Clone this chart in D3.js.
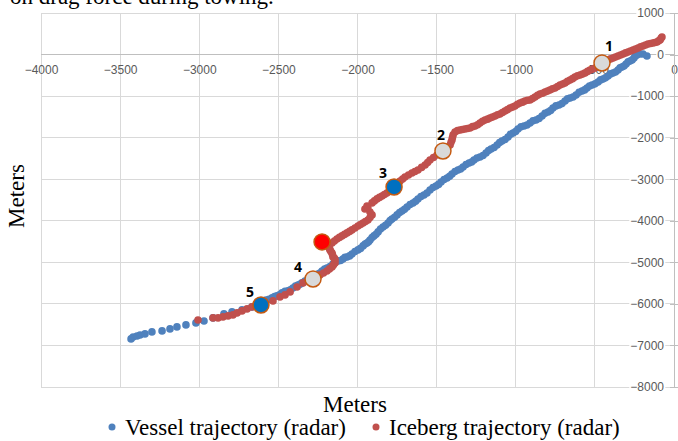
<!DOCTYPE html>
<meta charset="utf-8">
<style>

body {
  margin: 0;
  background: #fff;
}

.tick text {
  font: 12px "Liberation Sans", sans-serif;
  fill: #595959;
}

.grid line {
  stroke: #d9d9d9;
  shape-rendering: crispEdges;
}

.axis path,
.axis line {
  stroke: #bfbfbf;
  shape-rendering: crispEdges;
}

.serif {
  font-family: "Liberation Serif", "Times New Roman", serif;
  fill: #000;
}

.num {
  font: bold 14px "Open Sans", sans-serif;
  text-anchor: middle;
}

</style>
<svg width="678" height="441"></svg>
<script src="https://d3js.org/d3.v7.min.js"></script>
<script>

// ticks
var xTicks = [-4000, -3500, -3000, -2500, -2000, -1500, -1000, -500, 0];
var yTicks = [1000, 0, -1000, -2000, -3000, -4000, -5000, -6000, -7000, -8000];

// vessel trajectory (radar), meters [x, y]
var vessel = [
  [-3431,-6843],[-3418,-6795],[-3393,-6771],[-3374,-6747],[-3343,-6722],[-3299,-6674],
  [-3235,-6650],[-3185,-6602],[-3141,-6554],[-3084,-6506],[-3021,-6458],[-2970,-6410],
  [-2913,-6337],[-2844,-6241],[-2793,-6193],[-2730,-6145],[-2667,-6073],[-2616,-5977],
  [-2578,-5905],[-2540,-5856],[-2509,-5808],[-2477,-5736],[-2439,-5688],[-2408,-5616],
  [-2376,-5544],[-2351,-5495],[-2313,-5423],[-2281,-5351],[-2250,-5279],[-2224,-5207],
  [-2193,-5135],[-2155,-5038],[-2123,-4966],[-2092,-4918],[-2066,-4870],[-2035,-4798],
  [-1997,-4701],[-1965,-4605],[-1940,-4533],[-1921,-4461],[-1896,-4364],[-1870,-4268],
  [-1839,-4148],[-1807,-4052],[-1782,-3956],[-1750,-3859],[-1719,-3763],[-1687,-3667],
  [-1649,-3571],[-1618,-3475],[-1580,-3378],[-1542,-3258],[-1504,-3162],[-1472,-3066],
  [-1434,-2970],[-1403,-2873],[-1365,-2777],[-1333,-2705],[-1295,-2609],[-1264,-2537],
  [-1226,-2464],[-1188,-2368],[-1156,-2272],[-1118,-2176],[-1087,-2080],[-1049,-1983],
  [-1017,-1887],[-986,-1791],[-948,-1718],[-910,-1646],[-872,-1574],[-834,-1477],
  [-796,-1381],[-765,-1285],[-727,-1213],[-689,-1116],[-657,-1044],[-619,-972],
  [-581,-876],[-550,-804],[-518,-731],[-480,-659],[-449,-587],[-417,-515],
  [-386,-443],[-354,-371],[-329,-298],[-303,-226],[-278,-154],[-253,-82],
  [-234,-10],[-215,14],[-196,14],[-171,-34],
  [-2597,-5930],[-2559,-5890],[-2524,-5822],[-2493,-5780],[-2458,-5700],[-2424,-5660],
  [-2392,-5570],[-2363,-5530],[-2332,-5450],[-2297,-5400],[-2266,-5300],[-2237,-5255],
  [-2208,-5160],[-2174,-5100],[-2139,-4990],[-2107,-4955],[-2079,-4880],[-2050,-4845],
  [-2016,-4740],[-1981,-4665],[-1952,-4560],[-1930,-4505],[-1908,-4405],[-1883,-4325],
  [-1855,-4200],[-1823,-4110],[-1794,-3995],[-1766,-3915],[-1734,-3800],[-1703,-3725],
  [-1668,-3610],[-1633,-3530],[-1599,-3415],[-1561,-3330],[-1523,-3200],[-1488,-3125],
  [-1453,-3005],[-1418,-2930],[-1384,-2815],[-1349,-2755],[-1314,-2645],[-1279,-2585],
  [-1245,-2490],[-1207,-2430],[-1172,-2310],[-1137,-2235],[-1102,-2115],[-1068,-2045],
  [-1033,-1920],[-1001,-1850],[-967,-1740],[-929,-1695],[-891,-1595],[-853,-1540],
  [-815,-1415],[-780,-1345],[-746,-1235],[-708,-1180],[-673,-1065],[-638,-1020],
  [-600,-910],[-565,-850],[-534,-755],[-499,-705],[-464,-610],[-433,-560],
  [-401,-465],[-370,-420],[-341,-320],[-316,-275],[-290,-175],[-265,-130],[-243,-30]
];

// iceberg trajectory (radar), meters [x, y]
var iceberg = [
  [-3008,-6386],[-2913,-6337],[-2881,-6337],[-2850,-6313],[-2818,-6289],[-2787,-6265],
  [-2761,-6217],[-2730,-6169],[-2698,-6121],[-2667,-6073],[-2534,-5928],[-2490,-5832],
  [-2458,-5784],[-2426,-5712],[-2382,-5592],[-2344,-5495],[-2237,-5303],[-2193,-5207],
  [-2161,-5110],[-2142,-5014],[-2142,-4942],[-2155,-4870],[-2161,-4774],[-2174,-4701],
  [-2180,-4629],[-2161,-4533],[-2130,-4437],[-2098,-4364],[-2066,-4292],[-2035,-4220],
  [-1997,-4124],[-1965,-4052],[-1934,-3980],[-1908,-3859],[-1921,-3787],[-1953,-3715],
  [-1940,-3643],[-1908,-3570],[-1877,-3474],[-1845,-3402],[-1814,-3330],[-1788,-3258],
  [-1731,-3041],[-1700,-2945],[-1656,-2849],[-1618,-2777],[-1573,-2656],[-1542,-2536],
  [-1498,-2416],[-1415,-2175],[-1403,-2055],[-1396,-1934],[-1384,-1862],[-1352,-1814],
  [-1321,-1790],[-1289,-1766],[-1257,-1718],[-1226,-1646],[-1194,-1574],[-1163,-1525],
  [-1131,-1477],[-1100,-1429],[-1068,-1357],[-1036,-1285],[-1005,-1237],[-973,-1165],
  [-942,-1116],[-910,-1092],[-878,-1020],[-847,-948],[-815,-900],[-784,-852],
  [-752,-804],[-720,-731],[-689,-683],[-657,-611],[-626,-539],[-594,-491],
  [-562,-443],[-531,-371],[-499,-322],[-417,-130],[-385,-82],[-354,-34],
  [-322,14],[-291,63],[-259,111],[-227,159],[-196,207],[-164,255],
  [-133,279],[-107,303],[-88,351],[-76,423],
  [-2215,-5255],[-2177,-5158],[-2152,-5062],[-2145,-4905],[-2158,-4820],[-2168,-4738],
  [-2177,-4665],[-2146,-4485],[-2114,-4400],[-2082,-4328],[-2050,-4256],[-2016,-4172],
  [-1981,-4088],[-1950,-4016],[-1921,-3920],[-1935,-3680],[-1893,-3522],[-1861,-3438],
  [-1830,-3366],[-1760,-3150],[-1715,-2993],[-1678,-2897],[-1637,-2813],[-1595,-2716],
  [-1557,-2596],[-1520,-2476],
  [-1409,-2110],[-1400,-1995],[-1368,-1830],[-1337,-1805],[-1305,-1780],[-1273,-1735],
  [-1241,-1690],[-1210,-1605],[-1178,-1555],[-1147,-1505],[-1115,-1450],[-1084,-1395],
  [-1052,-1325],[-1020,-1265],[-989,-1195],[-957,-1145],[-926,-1100],[-894,-1060],
  [-862,-980],[-831,-930],[-799,-880],[-768,-825],[-736,-770],[-704,-710],
  [-673,-645],[-641,-580],[-610,-510],[-578,-470],[-546,-405],[-515,-350],
  [-401,-105],[-370,-60],[-338,-10],[-306,40],[-275,85],[-243,135],
  [-211,185],[-180,230],[-148,265],[-120,290],[-97,330],[-82,390]
];

// highlighted positions
var markLabels = ["1", "2", "3", "", "4", "5"];
var markX = [-455, -1460, -1769, -2224, -2281, -2610];
var markY = [-202, -2320, -3186, -4509, -5401, -6026];
var markFill = ["#d9d9d9", "#d9d9d9", "#0070c0", "#ff0000", "#d9d9d9", "#0070c0"];

var seriesNames = ["Vessel trajectory (radar)", "Iceberg trajectory (radar)"];
var seriesColors = ["#4f81bd", "#c0504d"];

var svg = d3.select("svg");

var x = d3.scaleLinear().domain([-4000, 0]).range([41, 674]);
var y = d3.scaleLinear().domain([1000, -8000]).range([13, 387]);

svg.append("rect").attr("width", 678).attr("height", 441).attr("fill", "#fff");

// caption text, cut off at the top like the source
svg.append("text")
    .attr("class", "serif")
    .attr("x", 10)
    .attr("y", 4)
    .style("font-size", "23px")
    .text("on drag force during towing.");

// grid
svg.append("g")
    .attr("class", "grid")
    .selectAll("line")
    .data(xTicks.slice(0, -1))
  .enter().append("line")
    .attr("x1", function(d) { return x(d); })
    .attr("x2", function(d) { return x(d); })
    .attr("y1", y(1000))
    .attr("y2", y(-8000));

svg.append("g")
    .attr("class", "grid")
    .selectAll("line")
    .data(yTicks)
  .enter().append("line")
    .attr("x1", x(-4000))
    .attr("x2", x(0))
    .attr("y1", function(d) { return y(d); })
    .attr("y2", function(d) { return y(d); });

// x axis crossing at y = 0
var gx = svg.append("g")
    .attr("class", "axis")
    .attr("transform", "translate(0," + y(0) + ")")
    .call(d3.axisBottom(x).tickValues(xTicks).tickSize(0).tickPadding(11).tickFormat(d3.format("d")));
gx.select(".domain").attr("d", "M" + x(-4000) + ",0H" + x(0));

// y axis crossing at x = 0
var gy = svg.append("g")
    .attr("class", "axis")
    .attr("transform", "translate(" + x(0) + ",0)")
    .call(d3.axisLeft(y).tickValues(yTicks).tickSize(0).tickPadding(10).tickFormat(d3.format("d")));
gy.select(".domain").attr("d", "M0," + y(1000) + "V" + y(-8000));
gy.selectAll(".tick").append("line")
    .attr("x1", -4).attr("x2", 4);
gy.selectAll(".tick").insert("rect", "text")
    .datum(function() { return this.nextSibling.getBBox(); })
    .attr("x", function(d) { return d.x - 1; })
    .attr("y", function(d) { return d.y + 2; })
    .attr("width", function(d) { return d.width + 2; })
    .attr("height", function(d) { return d.height - 4; })
    .attr("fill", "#fff");
gy.selectAll(".tick text").raise();

// trajectories
var plot = svg.append("g");

plot.selectAll(".vessel")
    .data(vessel)
  .enter().append("circle")
    .attr("class", "vessel")
    .attr("cx", function(d) { return x(d[0]); })
    .attr("cy", function(d) { return y(d[1]); })
    .attr("r", 3.8)
    .attr("fill", seriesColors[0]);

plot.selectAll(".iceberg")
    .data(iceberg)
  .enter().append("circle")
    .attr("class", "iceberg")
    .attr("cx", function(d) { return x(d[0]); })
    .attr("cy", function(d) { return y(d[1]); })
    .attr("r", 3.8)
    .attr("fill", seriesColors[1]);

// numbered points
var labelDx = [7, -2, -11, 0, -15, -11],
    labelDy = [-12, -11, -9, 0, -7, -8];

var mark = plot.selectAll(".mark")
    .data(markX)
  .enter().append("g")
    .attr("class", "mark")
    .attr("transform", function(d, i) { return "translate(" + x(d) + "," + y(markY[i]) + ")"; });

mark.append("circle")
    .attr("r", 8)
    .attr("fill", function(d, i) { return markFill[i]; })
    .attr("stroke", "#c55a11")
    .attr("stroke-width", 1.5);

mark.append("text")
    .attr("class", "num")
    .attr("x", function(d, i) { return labelDx[i]; })
    .attr("y", function(d, i) { return labelDy[i]; })
    .text(function(d, i) { return markLabels[i]; });

// axis titles
svg.append("text")
    .attr("class", "serif")
    .attr("x", 355)
    .attr("y", 412)
    .attr("text-anchor", "middle")
    .style("font-size", "23px")
    .text("Meters");

svg.append("text")
    .attr("class", "serif")
    .attr("transform", "translate(24,196) rotate(-90)")
    .attr("text-anchor", "middle")
    .style("font-size", "23px")
    .text("Meters");

// legend
var legendX = [112, 376];

var legend = svg.selectAll(".legend")
    .data(seriesNames)
  .enter().append("g")
    .attr("class", "legend")
    .attr("transform", function(d, i) { return "translate(" + legendX[i] + ",427)"; });

legend.append("circle")
    .attr("r", 3.5)
    .attr("fill", function(d, i) { return seriesColors[i]; });

legend.append("text")
    .attr("class", "serif")
    .attr("x", 13)
    .attr("y", 8)
    .style("font-size", "23px")
    .text(function(d) { return d; });

</script>
